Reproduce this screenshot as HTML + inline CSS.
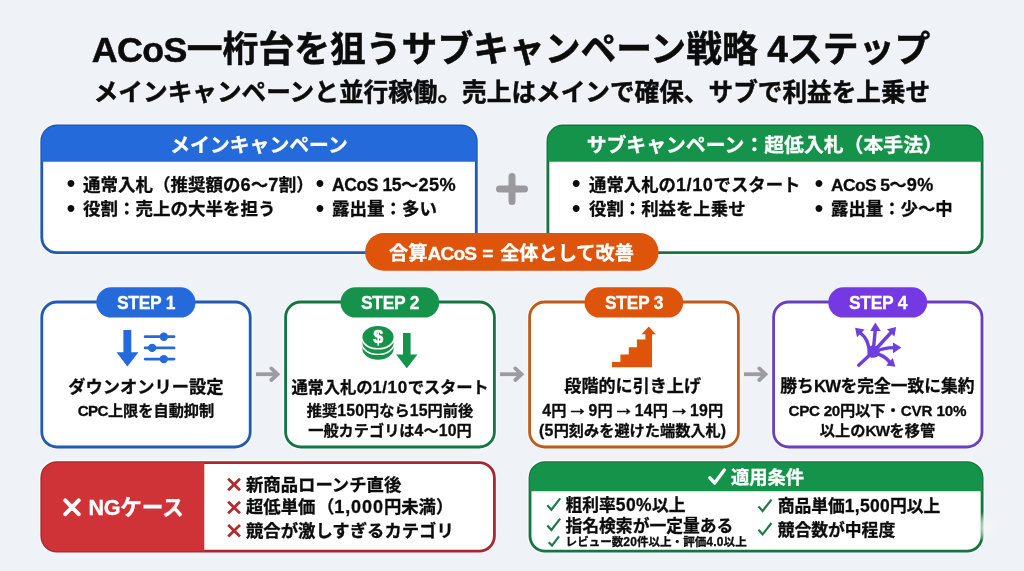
<!DOCTYPE html>
<html lang="ja">
<head>
<meta charset="utf-8">
<title>ACoS一桁台を狙うサブキャンペーン戦略 4ステップ</title>
<style>
*{box-sizing:border-box;margin:0;padding:0}
html,body{width:1024px;height:571px;overflow:hidden;background:#eff2f6}
body{font-family:"Liberation Sans","Noto Sans CJK JP",sans-serif;font-weight:700;color:#0c0c0c;position:relative}
#cv{position:absolute;left:0;top:0;width:1024px;height:571px;overflow:hidden;background:#eff2f6;will-change:transform}
.t{position:absolute;white-space:nowrap;line-height:1;-webkit-text-stroke:0.3px currentColor}
.bu{-webkit-text-stroke:0}
.c{text-align:center}
.w{color:#fff}
svg{position:absolute;left:0;top:0}
.ar{font-size:1.4em;line-height:0;margin:0 -0.178em;-webkit-text-stroke:0.55px currentColor;position:relative;top:-1px}
</style>
</head>
<body>
<div id="cv">

<svg id="bx" width="1024" height="571" viewBox="0 0 1024 571">
<rect x="39.80" y="124.00" width="438.50" height="130.60" rx="17.10" fill="none" stroke="#fff" stroke-opacity="0.55" stroke-width="1.6"/>
<rect x="41.80" y="126.00" width="434.50" height="126.60" rx="15.10" fill="#fff" stroke="#2159b5" stroke-width="2.8"/>
<path d="M41.70 161.80V141.10a15.20 15.20 0 0 1 15.20 -15.20H461.20a15.20 15.20 0 0 1 15.20 15.20V161.80Z" fill="#246adb"/>
<rect x="545.90" y="124.00" width="438.20" height="130.60" rx="17.10" fill="none" stroke="#fff" stroke-opacity="0.55" stroke-width="1.6"/>
<rect x="547.90" y="126.00" width="434.20" height="126.60" rx="15.10" fill="#fff" stroke="#157540" stroke-width="2.8"/>
<path d="M547.80 161.80V141.10a15.20 15.20 0 0 1 15.20 -15.20H967.00a15.20 15.20 0 0 1 15.20 15.20V161.80Z" fill="#16934b"/>
<rect x="365.1" y="233.1" width="293.50" height="37.70" rx="18.85" fill="#dd540a"/>
<rect x="39.80" y="300.00" width="212.40" height="149.00" rx="17.10" fill="none" stroke="#fff" stroke-opacity="0.55" stroke-width="1.6"/>
<rect x="41.80" y="302.00" width="208.40" height="145.00" rx="15.10" fill="#fff" stroke="#2159b5" stroke-width="2.8"/>
<rect x="96.3" y="287.2" width="99.20" height="30.40" rx="15.20" fill="#246adb"/>
<rect x="283.60" y="300.00" width="212.80" height="149.00" rx="17.10" fill="none" stroke="#fff" stroke-opacity="0.55" stroke-width="1.6"/>
<rect x="285.60" y="302.00" width="208.80" height="145.00" rx="15.10" fill="#fff" stroke="#157540" stroke-width="2.8"/>
<rect x="340.5" y="287.2" width="98.70" height="30.40" rx="15.20" fill="#16934b"/>
<rect x="527.60" y="300.00" width="212.80" height="149.00" rx="17.10" fill="none" stroke="#fff" stroke-opacity="0.55" stroke-width="1.6"/>
<rect x="529.60" y="302.00" width="208.80" height="145.00" rx="15.10" fill="#fff" stroke="#c05a17" stroke-width="2.8"/>
<rect x="584.5" y="287.2" width="98.70" height="30.40" rx="15.20" fill="#dd540a"/>
<rect x="771.60" y="300.00" width="212.40" height="149.00" rx="17.10" fill="none" stroke="#fff" stroke-opacity="0.55" stroke-width="1.6"/>
<rect x="773.60" y="302.00" width="208.40" height="145.00" rx="15.10" fill="#fff" stroke="#6a3fc0" stroke-width="2.8"/>
<rect x="828.3" y="287.2" width="98.90" height="30.40" rx="15.20" fill="#7539e3"/>
<rect x="39.80" y="460.60" width="456.60" height="92.60" rx="17.10" fill="none" stroke="#fff" stroke-opacity="0.55" stroke-width="1.6"/>
<rect x="41.80" y="462.60" width="452.60" height="88.60" rx="15.10" fill="#fff" stroke="#a8272d" stroke-width="2.8"/>
<path d="M204.30 462.50H56.90a15.20 15.20 0 0 0 -15.20 15.20V536.10a15.20 15.20 0 0 0 15.20 15.20H204.30Z" fill="#cf3338"/>
<rect x="528.00" y="460.60" width="456.10" height="92.60" rx="17.10" fill="none" stroke="#fff" stroke-opacity="0.55" stroke-width="1.6"/>
<rect x="530.00" y="462.60" width="452.10" height="88.60" rx="15.10" fill="#fff" stroke="#157540" stroke-width="2.8"/>
<path d="M529.90 491.20V477.70a15.20 15.20 0 0 1 15.20 -15.20H967.00a15.20 15.20 0 0 1 15.20 15.20V491.20Z" fill="#16934b"/>
</svg>
<!-- titles -->
<div class="t c" style="left:0;width:1022px;top:31.6px;font-size:35.8px;line-height:36px;-webkit-text-stroke-width:0.5px"><span style="letter-spacing:-0.017em">ACoS</span>一桁台を狙うサブキャンペーン戦略<span style="font-size:1.04em;line-height:0;letter-spacing:-0.024em"> 4</span>ステップ</div>
<div class="t c" style="left:0;width:1024px;top:81px;font-size:24.65px;line-height:24.5px;-webkit-text-stroke-width:0.45px">メインキャンペーンと並行稼働。売上はメインで確保、サブで利益を上乗せ</div>

<!-- main campaign box -->
<div class="t c w" style="left:40.5px;width:437px;top:135px;font-size:19.85px;line-height:20px">メインキャンペーン</div>
<div class="t bu c" style="left:61.0px;width:20px;top:172.3px;font-size:24px;line-height:22px">•</div>
<div class="t" style="left:83px;top:175.5px;font-size:17.5px;line-height:18px">通常入札（推奨額の<span style="font-size:1.04em;line-height:0;letter-spacing:0.011em">6</span>〜<span style="font-size:1.04em;line-height:0;letter-spacing:0.011em">7</span>割）</div>
<div class="t bu c" style="left:61.0px;width:20px;top:197.0px;font-size:24px;line-height:22px">•</div>
<div class="t" style="left:83px;top:200px;font-size:17.5px;line-height:18px">役割：売上の大半を担う</div>
<div class="t bu c" style="left:310.0px;width:20px;top:172.3px;font-size:24px;line-height:22px">•</div>
<div class="t" style="left:332px;top:175.5px;font-size:17.5px;line-height:18px"><span style="letter-spacing:-0.024em">ACoS 15</span>〜<span style="font-size:1.04em;line-height:0;letter-spacing:0.020em">25%</span></div>
<div class="t bu c" style="left:310.0px;width:20px;top:197.0px;font-size:24px;line-height:22px">•</div>
<div class="t" style="left:332px;top:200px;font-size:17.5px;line-height:18px">露出量：多い</div>

<!-- sub campaign box -->
<div class="t c w" style="left:546px;width:437.5px;top:135px;font-size:19.85px;line-height:20px">サブキャンペーン：超低入札（本手法）</div>
<div class="t bu c" style="left:566.3px;width:20px;top:172.3px;font-size:24px;line-height:22px">•</div>
<div class="t" style="left:589px;top:175.5px;font-size:17.4px;line-height:18px">通常入札の<span style="font-size:1.04em;line-height:0;letter-spacing:0.032em">1/10</span>でスタート</div>
<div class="t bu c" style="left:566.3px;width:20px;top:197.0px;font-size:24px;line-height:22px">•</div>
<div class="t" style="left:589px;top:200px;font-size:17.4px;line-height:18px">役割：利益を上乗せ</div>
<div class="t bu c" style="left:808.9px;width:20px;top:172.3px;font-size:24px;line-height:22px">•</div>
<div class="t" style="left:831px;top:175.5px;font-size:17.4px;line-height:18px"><span style="letter-spacing:-0.034em">ACoS 5</span>〜<span style="font-size:1.04em;line-height:0;letter-spacing:0.024em">9%</span></div>
<div class="t bu c" style="left:808.9px;width:20px;top:197.0px;font-size:24px;line-height:22px">•</div>
<div class="t" style="left:831px;top:200px;font-size:17.4px;line-height:18px">露出量：少〜中</div>

<!-- combined pill -->
<div class="t c w" style="left:365px;width:293px;top:244px;font-size:19.2px;line-height:19px">合算<span style="letter-spacing:-0.047em">ACoS</span><span style="letter-spacing:0.038em"> = </span>全体として改善</div>

<!-- steps -->
<div class="t c w" style="left:96.5px;width:99px;top:293.5px;font-size:17.5px;line-height:18px"><span style="letter-spacing:-0.017em">STEP 1</span></div>
<div class="t c" style="left:40.5px;width:211px;top:378px;font-size:17.25px;line-height:18px">ダウンオンリー設定</div>
<div class="t c" style="left:40.5px;width:211px;top:402.5px;font-size:15.2px;line-height:15px"><span style="letter-spacing:-0.044em">CPC</span>上限を自動抑制</div>

<div class="t c w" style="left:340.5px;width:99px;top:293.5px;font-size:17.5px;line-height:18px"><span style="letter-spacing:-0.017em">STEP 2</span></div>
<div class="t c" style="left:284.5px;width:211px;top:378px;font-size:16.4px;line-height:18px;letter-spacing:-0.22px">通常入札の<span style="font-size:1.04em;line-height:0;letter-spacing:0.032em">1/10</span>でスタート</div>
<div class="t c" style="left:284.5px;width:211px;top:402.5px;font-size:15.2px;line-height:15px">推奨<span style="font-size:1.04em;line-height:0;letter-spacing:0.011em">150</span>円なら<span style="font-size:1.04em;line-height:0;letter-spacing:0.011em">15</span>円前後</div>
<div class="t c" style="left:284.5px;width:211px;top:422.5px;font-size:15.2px;line-height:15px">一般カテゴリは<span style="font-size:1.04em;line-height:0;letter-spacing:0.011em">4</span>〜<span style="font-size:1.04em;line-height:0;letter-spacing:0.011em">10</span>円</div>

<div class="t c w" style="left:584.5px;width:99px;top:293.5px;font-size:17.5px;line-height:18px"><span style="letter-spacing:-0.017em">STEP 3</span></div>
<div class="t c" style="left:527.2px;width:211px;top:378px;font-size:17.1px;line-height:18px">段階的に引き上げ</div>
<div class="t c" style="left:527.2px;width:211px;top:402.5px;font-size:15.2px;line-height:15px"><span style="font-size:1.04em;line-height:0;letter-spacing:0.011em">4</span>円 <span class="ar">→</span> <span style="font-size:1.04em;line-height:0;letter-spacing:0.011em">9</span>円 <span class="ar">→</span> <span style="font-size:1.04em;line-height:0;letter-spacing:0.011em">14</span>円 <span class="ar">→</span> <span style="font-size:1.04em;line-height:0;letter-spacing:0.011em">19</span>円</div>
<div class="t c" style="left:527.2px;width:211px;top:422.5px;font-size:15.2px;line-height:15px"><span style="font-size:1.04em;line-height:0;letter-spacing:0.021em">(5</span>円刻みを避けた端数入札<span style="font-size:1.04em;line-height:0;letter-spacing:0.030em">)</span></div>

<div class="t c w" style="left:828.5px;width:99px;top:293.5px;font-size:17.5px;line-height:18px"><span style="letter-spacing:-0.017em">STEP 4</span></div>
<div class="t c" style="left:772.2px;width:210.5px;top:378px;font-size:16.75px;line-height:18px">勝ち<span style="letter-spacing:-0.039em">KW</span>を完全一致に集約</div>
<div class="t c" style="left:772.2px;width:210.5px;top:402.5px;font-size:15.2px;line-height:15px"><span style="letter-spacing:-0.019em">CPC 20</span>円以下・<span style="letter-spacing:-0.010em">CVR 10%</span></div>
<div class="t c" style="left:772.2px;width:210.5px;top:422.5px;font-size:15.2px;line-height:15px">以上の<span style="letter-spacing:-0.039em">KW</span>を移管</div>

<!-- NG box -->
<div class="t w" style="left:88.5px;top:496.5px;font-size:21.6px;line-height:22px"><span style="letter-spacing:-0.017em">NG</span>ケース</div>
<div class="t" style="left:246px;top:475.5px;font-size:17.35px;line-height:18px">新商品ローンチ直後</div>
<div class="t" style="left:246px;top:498px;font-size:17.35px;line-height:18px">超低単価<span style="margin-left:1.5px">（</span><span style="font-size:1.04em;line-height:0;letter-spacing:0.050em">1,000</span>円未満）</div>
<div class="t" style="left:246px;top:521.5px;font-size:17.35px;line-height:18px">競合が激しすぎるカテゴリ</div>

<!-- conditions box -->
<div class="t w" style="left:731px;top:467.6px;font-size:18.3px;line-height:19px">適用条件</div>
<div class="t" style="left:565.5px;top:497.2px;font-size:16.8px;line-height:18px">粗利率<span style="font-size:1.04em;line-height:0;letter-spacing:0.020em">50%</span>以上</div>
<div class="t" style="left:565.5px;top:518.3px;font-size:16.8px;line-height:18px">指名検索が一定量ある</div>
<div class="t" style="left:565.6px;top:536.1px;font-size:11.55px;line-height:12px">レビュー数<span style="font-size:1.04em;line-height:0;letter-spacing:0.011em">20</span>件以上・評価<span style="font-size:1.04em;line-height:0;letter-spacing:0.019em">4.0</span>以上</div>
<div class="t" style="left:777.7px;top:498.4px;font-size:16.8px;line-height:18px">商品単価<span style="font-size:1.04em;line-height:0;letter-spacing:0.016em">1,500</span>円以上</div>
<div class="t" style="left:777.7px;top:522.3px;font-size:16.8px;line-height:18px">競合数が中程度</div>

<svg id="ic" width="1024" height="571" viewBox="0 0 1024 571">

<!-- step1 icon -->
<g fill="#246adb">
<path d="M123.400 330H131.300V352.300H138.400L127.400 366.400L116.500 352.300H123.400Z"/>
<circle cx="163.800" cy="336.700" r="4.200"/><circle cx="152.200" cy="347.900" r="4.200"/><circle cx="163.800" cy="359.100" r="4.200"/>
</g>
<g stroke="#246adb" stroke-width="2.700" stroke-linecap="round" fill="none">
<path d="M145.100 336.700H174.100M145.100 347.900H174.100M145.100 359.100H174.100"/>
</g>
<!-- step2 icon -->
<g>
<ellipse cx="378" cy="348.700" rx="15.600" ry="11" fill="#16934b"/>
<ellipse cx="378" cy="344.100" rx="16.600" ry="11" fill="#fff"/>
<ellipse cx="378" cy="342.750" rx="15.600" ry="11" fill="#16934b"/>
<ellipse cx="378" cy="338.600" rx="16.600" ry="11" fill="#fff"/>
<ellipse cx="378" cy="337" rx="15.600" ry="11" fill="#16934b"/>
<text x="378.300" y="343.300" text-anchor="middle" font-family="'Liberation Sans',sans-serif" font-weight="700" font-size="18" fill="#fff" stroke="#fff" stroke-width="0.500">$</text>
<path d="M403 333H410.600V354.400H417.500L406.800 368.200L396.100 354.400H403Z" fill="#16934b"/>
</g>
<!-- step3 icon -->
<path d="M611.900 367.300V362H620.400V354.400H628.800V347.200H636.900V339.600H645.400V334.300H641.600L648.700 326.400L655.900 334.300H652.050V367.300Z" fill="#dd540a"/>
<!-- step4 icon -->
<g stroke="#6d3fe0" stroke-width="3.400" fill="none" stroke-linecap="round" stroke-linejoin="round">
<path d="M858.700 365.200L869.500 355.200"/>
<path d="M869.200 354C869.600 345 867 338 860.500 333"/>
<path d="M873.300 350L875.300 330"/>
<path d="M875.500 349.500L891 332.500"/>
<path d="M876 351.500C882 348.500 888 347.600 894 347.600"/>
<path d="M875.500 353.500C882 354.500 886.500 358 890 362.500"/>
</g>
<g fill="#6d3fe0">
<path d="M868 352C868 348 869.500 345.600 872.800 345.600C876.500 345.600 879.600 348.500 879.600 351.800C879.600 355.300 877.200 357.600 873 357.800C870 357.900 868 356 868 352Z"/>
<path d="M855.100 327.800L864.600 329.600L857 337.300Z"/>
<path d="M875.300 322.400L880.800 331L870.200 331Z"/>
<path d="M896.100 326.900L894.400 336.400L887 329.300Z"/>
<path d="M901.400 347.600L893 353.200L893 342.400Z"/>
<path d="M895.400 366.800L886.200 365.400L892.800 358Z"/>
</g>
<!-- NG marks -->
<g stroke="#fff" stroke-width="4" stroke-linecap="round" fill="none">
<path d="M65.300 500.400L78.700 514.200M78.700 500.400L65.300 514.200"/>
</g>
<g stroke="#b5282e" stroke-width="2.700" stroke-linecap="butt" fill="none">
<path d="M228.200 478.800L240 490.300M240 478.800L228.200 490.300"/>
<path d="M228.200 501.800L240 513.300M240 501.800L228.200 513.300"/>
<path d="M228.200 525L240 536.500M240 525L228.200 536.500"/>
</g>
<!-- check marks -->
<g stroke="#fff" stroke-width="3.300" fill="none" stroke-linecap="round" stroke-linejoin="round">
<path d="M709.800 477.800L714.700 483L724.300 470"/>
</g>
<g stroke="#1a7a4c" stroke-width="2.200" fill="none" stroke-linecap="butt" stroke-linejoin="miter">
<path d="M547.300 505.200L551.400 509.700L560.200 498.300"/>
<path d="M547.300 525.500L551.400 530L560.200 518.600"/>
<path d="M548.700 542.200L552 545.600L559 536.300"/>
<path d="M758.500 506.400L762.600 511L771.500 499.600"/>
<path d="M758.500 529.800L762.600 534.400L771.500 523"/>
</g>
<defs><radialGradient id="wm"><stop offset="0" stop-color="#f4f6f9" stop-opacity="0.95"/><stop offset="0.5" stop-color="#f2f4f8" stop-opacity="0.7"/><stop offset="1" stop-color="#eff2f6" stop-opacity="0"/></radialGradient></defs>
<ellipse cx="988.500" cy="527" rx="13" ry="17" fill="url(#wm)"/>
<!-- plus -->
<g stroke="#9a9a9e" stroke-width="7" stroke-linecap="round" fill="none">
<path d="M499.5 189H524.5M512 176.500V201.500"/>
</g>
<!-- arrows between steps -->
<g stroke="#9b9ba0" stroke-width="3.800" fill="none" stroke-linecap="round" stroke-linejoin="miter">
<path d="M256.0 374.200H276.4" stroke-linecap="butt"/><path d="M271.3 368.400L277.5 374.200L271.3 380"/>
<path d="M500.0 374.200H520.4" stroke-linecap="butt"/><path d="M515.3 368.400L521.5 374.200L515.3 380"/>
<path d="M744.0 374.200H764.4" stroke-linecap="butt"/><path d="M759.3 368.400L765.5 374.200L759.3 380"/>
</g>
</svg>
</div>
</body>
</html>
